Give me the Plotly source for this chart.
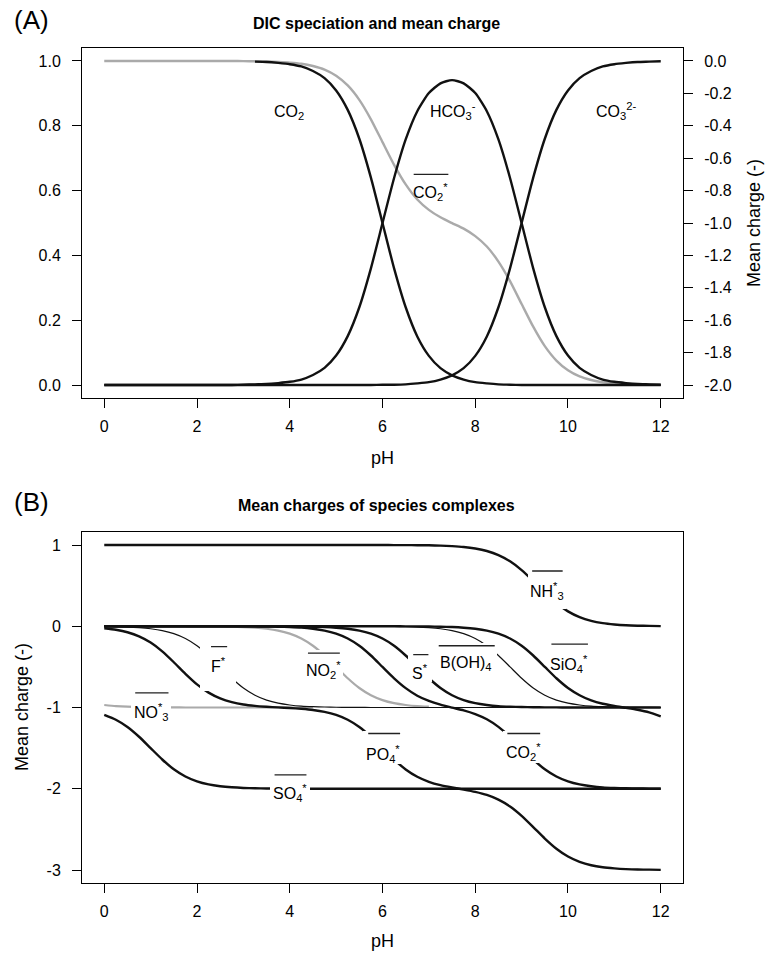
import plotly.graph_objects as go

FONT = "Liberation Sans, Arial, Helvetica, sans-serif"

# ---------------- data ----------------
pH = [0.0, 0.25, 0.5, 0.75, 1.0, 1.25, 1.5, 1.75, 2.0, 2.25, 2.5, 2.75,
      3.0, 3.25, 3.5, 3.75, 4.0, 4.25, 4.5, 4.75, 5.0, 5.25, 5.5, 5.75,
      6.0, 6.25, 6.5, 6.75, 7.0, 7.25, 7.5, 7.75, 8.0, 8.25, 8.5, 8.75,
      9.0, 9.25, 9.5, 9.75, 10.0, 10.25, 10.5, 10.75, 11.0, 11.25, 11.5, 11.75, 12.0]

# Panel A: DIC species fractions (left axis)
frac_co2 = [None, None, None, None, None, None, None, None, None, None, None, None,
            None, .998, .997, .994, .990, .983, .969, .947, .909, .849, .760, .640,
            .500, .360, .240, .150, .090, .052, .030, .017, .009, .005, .002, .001,
            0, 0, 0, 0, 0, 0, 0, 0, 0, 0, 0, 0, 0]
frac_hco3 = [0, 0, 0, 0, 0, 0, 0, 0, 0, 0, 0, 0,
             .001, .002, .003, .006, .010, .017, .031, .053, .091, .151, .240, .360,
             .500, .639, .758, .845, .901, .931, .941, .931, .901, .845, .758, .639,
             .500, .360, .240, .151, .091, .053, .031, .017, .010, .006, .003, .002, .001]
frac_co3 = [0, 0, 0, 0, 0, 0, 0, 0, 0, 0, 0, 0,
            0, 0, 0, 0, 0, 0, 0, 0, 0, 0, 0, 0,
            .001, .001, .002, .005, .009, .017, .030, .052, .090, .150, .240, .360,
            .500, .640, .760, .849, .909, .947, .969, .983, .990, .994, .997, .998, .999]
# DIC mean charge (right axis in A, CO2* in B)
charge_co2 = [0, 0, 0, 0, 0, 0, 0, 0, 0, 0, 0, 0,
              -.001, -.002, -.003, -.006, -.010, -.017, -.031, -.053, -.091, -.151, -.240, -.360,
              -.501, -.641, -.762, -.855, -.919, -.965, -1.001, -1.035, -1.081, -1.145, -1.238, -1.359,
              -1.500, -1.640, -1.760, -1.849, -1.909, -1.947, -1.969, -1.983, -1.990, -1.994, -1.997, -1.998, -1.999]

# Panel B: mean charges of species complexes
charge_nh3 = [1, 1, 1, 1, 1, 1, 1, 1, 1, 1, 1, 1,
              1, 1, 1, 1, 1, 1, 1, 1, 1, 1, 1, 1,
              1.000, .999, .999, .997, .996, .992, .986, .976, .957, .926, .876, .799,
              .691, .557, .415, .285, .183, .112, .066, .038, .022, .012, .007, .004, .002]
charge_no3 = [-.969, -.982, -.990, -.994, -.997, -.998, -.999, -1, -1, -1, -1, -1,
              -1, -1, -1, -1, -1, -1, -1, None, None, None, None, None,
              None, None, None, None, None, None, None, None, None, None, None, None,
              None, None, None, None, None, None, None, None, None, None, None, None, None]
charge_so4 = [-1.091, -1.151, -1.240, -1.360, -1.500, -1.640, -1.760, -1.849, -1.909, -1.947, -1.969, -1.982,
              -1.990, -1.994, -1.997, -1.998, -1.999, -2, -2, -2, -2, -2, -2, -2,
              -2, -2, -2, -2, -2, -2, -2, -2, -2, -2, -2, -2,
              -2, -2, -2, -2, -2, -2, -2, -2, -2, -2, -2, -2, -2]
charge_f = [-.003, -.006, -.010, -.018, -.031, -.053, -.091, -.151, -.240, -.360, -.500, -.640,
            -.760, -.849, -.909, -.947, -.969, -.983, -.990, -.994, -.997, -.998, -.999, -1,
            -1, -1, -1, -1, -1, -1, -1, -1, -1, -1, -1, -1,
            -1, -1, -1, -1, -1, -1, -1, -1, -1, -1, -1, -1, -1]
charge_no2 = [0, 0, 0, 0, 0, 0, 0, 0, -.001, -.002, -.003, -.006,
              -.010, -.018, -.031, -.053, -.091, -.151, -.240, -.360, -.500, -.640, -.760, -.849,
              -.909, -.947, -.969, -.983, -.990, None, None, None, None, None, None, None,
              None, None, None, None, None, None, None, None, None, None, None, None, None]
charge_s = [0, 0, 0, 0, 0, 0, 0, 0, 0, 0, 0, 0,
            0, 0, 0, 0, -.002, -.003, -.006, -.010, -.018, -.031, -.053, -.091,
            -.151, -.240, -.360, -.500, -.640, -.760, -.849, -.909, -.947, -.969, -.983, -.990,
            -.994, -.997, -.998, -.999, -1, -1, -1, -1, -1, -1, -1, -1, -1]
charge_boh4 = [0, 0, 0, 0, 0, 0, 0, 0, 0, 0, 0, 0,
               0, 0, 0, 0, 0, 0, 0, 0, 0, 0, 0, 0,
               -.002, -.003, -.006, -.010, -.018, -.031, -.053, -.091, -.151, -.240, -.360, -.500,
               -.640, -.760, -.849, -.909, -.947, -.969, -.983, -.990, -.994, -.997, -.998, -.999, -1.000]
charge_sio4 = [0, 0, 0, 0, 0, 0, 0, 0, 0, 0, 0, 0,
               0, 0, 0, 0, 0, 0, 0, 0, 0, 0, 0, 0,
               0, 0, -.001, -.002, -.003, -.006, -.010, -.018, -.031, -.053, -.091, -.151,
               -.240, -.360, -.500, -.640, -.760, -.849, -.913, -.954, -.981, -1.004, -1.028, -1.060, -1.109]
charge_po4 = [-.024, -.043, -.074, -.124, -.201, -.309, -.443, -.585, -.715, -.817, -.888, -.934,
              -.963, -.980, -.991, -.999, -1.006, -1.016, -1.030, -1.053, -1.091, -1.151, -1.240, -1.360,
              -1.501, -1.641, -1.762, -1.852, -1.914, -1.956, -1.985, -2.010, -2.038, -2.076, -2.134, -2.218,
              -2.333, -2.471, -2.613, -2.738, -2.834, -2.899, -2.941, -2.966, -2.980, -2.989, -2.994, -2.996, -2.998]

# tick labels
x_ticks = [0, 2, 4, 6, 8, 10, 12]
x_ticktext = ["0", "2", "4", "6", "8", "10", "12"]
yA_ticks = [0.0, 0.2, 0.4, 0.6, 0.8, 1.0]
yA_ticktext = ["0.0", "0.2", "0.4", "0.6", "0.8", "1.0"]
yA2_ticks = [0.0, -0.2, -0.4, -0.6, -0.8, -1.0, -1.2, -1.4, -1.6, -1.8, -2.0]
yA2_ticktext = ["0.0", "-0.2", "-0.4", "-0.6", "-0.8", "-1.0", "-1.2", "-1.4", "-1.6", "-1.8", "-2.0"]
yB_ticks = [1, 0, -1, -2, -3]
yB_ticktext = ["1", "0", "-1", "-2", "-3"]

# labels panel A: text, x, y
labels_A = [("CO<sub>2</sub>", 3.99, 0.84),
            ("HCO<sub>3</sub><sup>-</sup>", 7.53, 0.845),
            ("CO<sub>3</sub><sup>2-</sup>", 11.03, 0.845)]
# labels with overbar: text, x, y, bar_y, bar half-width, box width(px), extra box height(px)
barlabels_A = [("CO<sub>2</sub><sup>*</sup>", 7.03, 0.595, 0.65, 0.39, 0, 0)]
barlabels_B = [("NH<sup>*</sup><sub>3</sub>", 9.54, 0.44, 0.68, 0.345, 38, 8),
               ("NO<sup>*</sup><sub>3</sub>", 1.01, -1.06, -0.82, 0.375, 40, 0),
               ("F<sup>*</sup>", 2.46, -0.48, -0.25, 0.19, 36, 15),
               ("NO<sub>2</sub><sup>*</sup>", 4.72, -0.54, -0.33, 0.36, 40, 0),
               ("S<sup>*</sup>", 6.81, -0.56, -0.35, 0.18, 24, 0),
               ("B(OH)<sub>4</sub>", 7.80, -0.46, -0.24, 0.62, 62, 0),
               ("SiO<sub>4</sub><sup>*</sup>", 10.02, -0.46, -0.22, 0.41, 0, 0),
               ("PO<sub>4</sub><sup>*</sup>", 6.02, -1.57, -1.32, 0.36, 40, 0),
               ("CO<sub>2</sub><sup>*</sup>", 9.03, -1.55, -1.32, 0.37, 40, 0),
               ("SO<sub>4</sub><sup>*</sup>", 4.00, -2.05, -1.83, 0.36, 40, 0)]

# ---------------- layout constants ----------------
W, H = 766, 958
XL, XR = 82, 683
A_TOP, A_BOT = 48, 398
B_TOP, B_BOT = 532, 883
X_RANGE = [-0.48, 12.48]
YA_RANGE = [-0.04, 1.04]
YA2_RANGE = [-2.08, 0.08]
YB_RANGE = [-3.16, 1.16]
BLACK = "#111111"
GRAY = "#aaaaaa"


def px(v):
    return v / W


def py(v):
    return 1 - v / H


fig = go.Figure()

# Panel A
fig.add_trace(go.Scatter(x=pH, y=charge_co2, xaxis="x", yaxis="y2", mode="lines",
                         line=dict(color=GRAY, width=2.4, shape="spline", smoothing=0.6)))
for arr in (frac_co2, frac_hco3, frac_co3):
    fig.add_trace(go.Scatter(x=pH, y=arr, xaxis="x", yaxis="y4", mode="lines",
                             line=dict(color=BLACK, width=2.4, shape="spline", smoothing=0.6)))

# Panel B
for arr in (charge_no3, charge_no2):
    fig.add_trace(go.Scatter(x=pH, y=arr, xaxis="x2", yaxis="y3", mode="lines",
                             line=dict(color=GRAY, width=2.2, shape="spline", smoothing=0.6)))
for arr in (charge_f, charge_boh4):
    fig.add_trace(go.Scatter(x=pH, y=arr, xaxis="x2", yaxis="y3", mode="lines",
                             line=dict(color=BLACK, width=1.2, shape="spline", smoothing=0.6)))
for arr in (charge_so4, charge_po4, charge_s, charge_co2, charge_sio4, charge_nh3):
    fig.add_trace(go.Scatter(x=pH, y=arr, xaxis="x2", yaxis="y3", mode="lines",
                             line=dict(color=BLACK, width=2.4, shape="spline", smoothing=0.6)))

tickfont = dict(family=FONT, size=16, color="black")
common_axis = dict(showline=True, linecolor="black", linewidth=1, ticks="outside", ticklen=9,
                   tickwidth=1, tickcolor="black", showgrid=False, zeroline=False,
                   tickfont=tickfont, automargin=False)
xdom = [px(XL), px(XR)]

fig.update_layout(
    width=W, height=H, margin=dict(l=0, r=0, t=0, b=0),
    paper_bgcolor="white", plot_bgcolor="white", showlegend=False,
    xaxis=dict(domain=xdom, anchor="y", range=X_RANGE, tickvals=x_ticks, ticktext=x_ticktext,
               mirror=True, ticklabelstandoff=5, **common_axis),
    yaxis=dict(domain=[py(A_BOT), py(A_TOP)], anchor="x", range=YA_RANGE, tickvals=yA_ticks,
               ticktext=yA_ticktext, mirror=True, ticklabelstandoff=8, **common_axis),
    yaxis2=dict(overlaying="y", anchor="x", side="right", range=YA2_RANGE, tickvals=yA2_ticks,
                ticktext=yA2_ticktext, ticklabelstandoff=8, **common_axis),
    yaxis4=dict(overlaying="y", anchor="x", range=YA_RANGE, visible=False),
    xaxis2=dict(domain=xdom, anchor="y3", range=X_RANGE, tickvals=x_ticks, ticktext=x_ticktext,
                mirror=True, ticklabelstandoff=5, **common_axis),
    yaxis3=dict(domain=[py(B_BOT), py(B_TOP)], anchor="x2", range=YB_RANGE, tickvals=yB_ticks,
                ticktext=yB_ticktext, mirror=True, ticklabelstandoff=8, **common_axis),
)

anns = []
lab_font = dict(family=FONT, size=16, color="black")
for t, x, y in labels_A:
    anns.append(dict(xref="x", yref="y", x=x, y=y, text=t, showarrow=False, font=lab_font,
                     xanchor="center", yanchor="middle"))

PPU_A = (A_BOT - A_TOP) / (YA_RANGE[1] - YA_RANGE[0])
PPU_B = (B_BOT - B_TOP) / (YB_RANGE[1] - YB_RANGE[0])


def bar_label(xr, yr, ppu, t, x, y, bar_y, hw, box_w, extra):
    out = []
    if box_w:
        h = (bar_y - y) * ppu + 13 + extra
        out.append(dict(xref=xr, yref=yr, x=x, y=bar_y, xanchor="center", yanchor="top", yshift=3,
                        text=" ", width=box_w, height=h, bgcolor="white", borderpad=0,
                        borderwidth=0, showarrow=False))
    out.append(dict(xref=xr, yref=yr, x=x, y=y, text=t, showarrow=False, font=lab_font,
                    xanchor="center", yanchor="middle"))
    out.append(dict(xref=xr, yref=yr, axref=xr, ayref=yr, x=x + hw, y=bar_y, ax=x - hw, ay=bar_y,
                    text="", showarrow=True, arrowhead=0, arrowwidth=1.3, arrowcolor="#222222",
                    standoff=0, startstandoff=0))
    return out


for lab in barlabels_A:
    anns += bar_label("x", "y", PPU_A, *lab)
for lab in barlabels_B:
    anns += bar_label("x2", "y3", PPU_B, *lab)

title_font = dict(family=FONT, size=16, color="black")
axt_font = dict(family=FONT, size=18, color="black")
panel_font = dict(family=FONT, size=26, color="black")


def paper_text(x, y, text, font, angle=0):
    return dict(xref="paper", yref="paper", x=px(x), y=py(y), text=text, showarrow=False,
                font=font, textangle=angle, xanchor="center", yanchor="middle")


anns += [
    paper_text(31, 20, "(A)", panel_font),
    paper_text(31, 502, "(B)", panel_font),
    paper_text(376, 23, "<b>DIC speciation and mean charge</b>", title_font),
    paper_text(376, 505, "<b>Mean charges of species complexes</b>", title_font),
    paper_text((XL + XR) / 2, 458, "pH", axt_font),
    paper_text((XL + XR) / 2, 941, "pH", axt_font),
    paper_text(754, 223, "Mean charge (-)", axt_font, -90),
    paper_text(22, 707, "Mean charge (-)", axt_font, -90),
]
fig.update_layout(annotations=anns)

# remove the browser's default page margin so the figure sits at the window origin
fig.write_html("out.html", config={"displayModeBar": False, "staticPlot": True},
               post_script="document.body.style.margin='0px';document.body.style.overflow='hidden';")
